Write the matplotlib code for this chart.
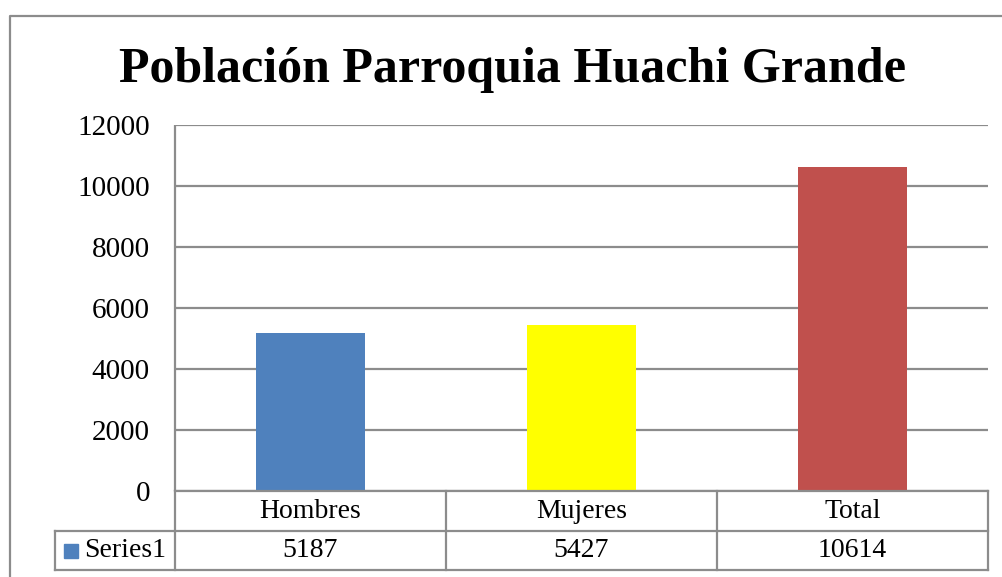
import matplotlib
matplotlib.use('Agg')
import matplotlib.pyplot as plt
from matplotlib.lines import Line2D
from matplotlib.patches import Rectangle
import numpy as np

categories = ['Hombres', 'Mujeres', 'Total']
values = [5187, 5427, 10614]
bar_colors = ['#4F81BD', '#FFFF00', '#C0504D']
series_name = 'Series1'
yticks = [0, 2000, 4000, 6000, 8000, 10000, 12000]
title = 'Población Parroquia Huachi Grande'

plt.rcParams['font.family'] = ['Liberation Serif', 'DejaVu Serif']

W, H = 1003, 577
fig = plt.figure(figsize=(W / 100, H / 100), dpi=100)
grey = '#8c8c8c'

def fx(px):
    return px / W

def fy(py):
    return 1 - py / H

# outer chart border (only left and top are visible)
fig.add_artist(Line2D([fx(10), fx(10), fx(1010)], [fy(600), fy(16), fy(16)],
                      color=grey, lw=1.6, transform=fig.transFigure))

fig.text(fx(513), fy(82), title, ha='center', va='baseline',
         fontsize=36, fontweight='bold')

left, right, top, bottom = 175, 988, 125, 491
ax = fig.add_axes([fx(left), fy(bottom), (right - left) / W, (bottom - top) / H])

x = np.arange(len(categories))
ax.bar(x, values, width=0.4, color=bar_colors, zorder=3)
ax.set_xlim(-0.5, len(categories) - 0.5)
ax.set_ylim(0, 12000)
ax.set_yticks(yticks)
ax.set_yticklabels([str(v) for v in yticks], fontsize=21)
ax.tick_params(axis='y', length=0, pad=18)
ax.set_xticks([])
ax.grid(axis='y', color=grey, lw=1.6, zorder=0)
for s in ['top', 'right', 'bottom']:
    ax.spines[s].set_visible(False)
ax.spines['left'].set_color(grey)
ax.spines['left'].set_linewidth(1.6)
ax.spines['left'].set_capstyle('butt')

# data table under the axis
tr = ax.get_xaxis_transform()
h = bottom - top
r1 = -(531 - bottom) / h
r2 = -(570 - bottom) / h
cat_w = (right - left) / len(categories)
xl = -0.5 - (left - 55) / cat_w
xr = len(categories) - 0.5
kw = dict(color=grey, lw=1.6, transform=tr, clip_on=False, zorder=5)
ax.plot([-0.5, xr], [0, 0], **kw)
ax.plot([xl, xr], [r1, r1], **kw)
ax.plot([xl, xr], [r2, r2], **kw)
ax.plot([xl, xl], [r1, r2], **kw)
for b in np.arange(len(categories) + 1) - 0.5:
    ax.plot([b, b], [0, r2], **kw)

for i, (c, v) in enumerate(zip(categories, values)):
    ax.text(i, r1 / 2, c, ha='center', va='center', fontsize=20, transform=tr)
    ax.text(i, (r1 + r2) / 2, str(v), ha='center', va='center', fontsize=20, transform=tr)

sq = 14 / cat_w
ax.add_patch(Rectangle((xl + 9 / cat_w, (r1 + r2) / 2 - 7 / h), sq, 14 / h,
                       color=bar_colors[0], transform=tr, clip_on=False))
ax.text(xl + 29 / cat_w, (r1 + r2) / 2, series_name, ha='left', va='center',
        fontsize=20, transform=tr)

fig.savefig('out.png', dpi=100, facecolor='white')
